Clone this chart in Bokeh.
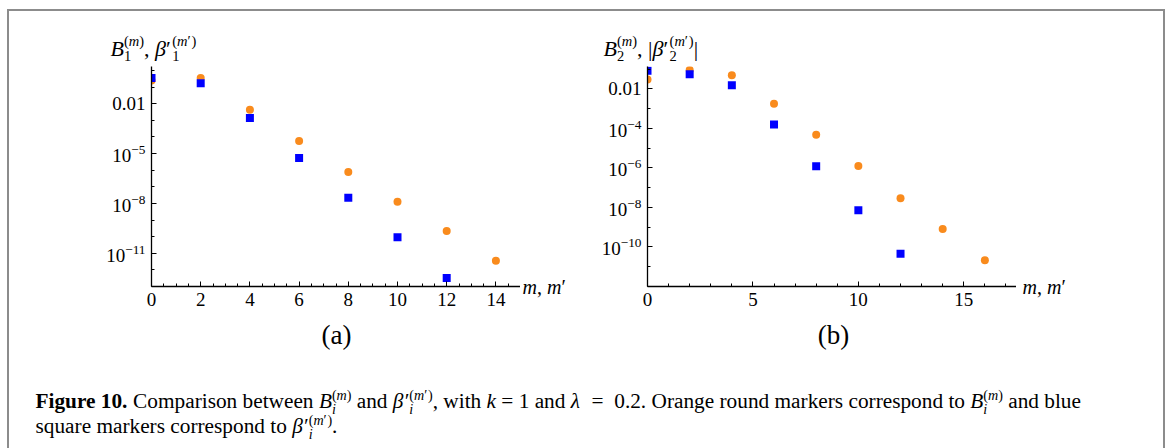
from bokeh.plotting import figure
from bokeh.layouts import column, row
from bokeh.models import Range1d, FixedTicker, LogTickFormatter, Label
from bokeh.embed import file_html
from bokeh.resources import INLINE

# ---------------- data ----------------
# panel (a): i = 1
m_B1 = [0, 2, 4, 6, 8, 10, 12, 14]
B1 = [0.25, 0.35, 4.4e-3, 5.8e-5, 7.9e-7, 1.26e-8, 2.2e-10, 3.6e-12]
m_beta1 = [0, 2, 4, 6, 8, 10, 12]
beta1 = [0.35, 0.17, 1.4e-3, 5.5e-6, 2.2e-8, 9.1e-11, 3.2e-13]

# panel (b): i = 2
m_B2 = [0, 2, 4, 6, 8, 10, 12, 14, 16]
B2 = [0.030, 0.089, 0.049, 1.74e-3, 4.8e-5, 1.26e-6, 2.9e-8, 8.1e-10, 2.1e-11]
m_beta2 = [0, 2, 4, 6, 8, 10, 12]
beta2 = [0.083, 0.055, 0.0151, 1.58e-4, 1.2e-6, 7.2e-9, 4.5e-11]

# ticks
xticks_a = [0, 2, 4, 6, 8, 10, 12, 14]
xminor_a = [i * 0.5 for i in range(31)]
yticks_a = [1e-2, 1e-5, 1e-8, 1e-11]
yminor_a = [1e0, 1e-1, 1e-3, 1e-4, 1e-6, 1e-7, 1e-9, 1e-10, 1e-12]

xticks_b = [0, 5, 10, 15]
xminor_b = list(range(0, 18))
yticks_b = [1e-2, 1e-4, 1e-6, 1e-8, 1e-10]
yminor_b = [1e-1, 1e-3, 1e-5, 1e-7, 1e-9, 1e-11]

# ---------------- style / geometry (page pixels) ----------------
SERIF = "Liberation Serif"
ORANGE = "#f98b1d"
BLUE = "#0000ff"
GRAY = "#8c8c8c"
W, H = 1170, 448
HEAD_H = 66            # header strip (y labels); plot frames start here
MID_BOTTOM = 318       # bottom of the plot row
AXIS_Y = 286           # x axes
MID_H = MID_BOTTOM - HEAD_H

NB = "\u00a0"
REG = {' ': 250, NB: 250, ',': 250, '.': 250, '=': 564, '(': 333, ')': 333, '|': 200, '\u2032': 275,
       'a': 444, 'b': 500, 'c': 444, 'd': 500, 'e': 444, 'f': 333, 'g': 500, 'h': 500,
       'i': 278, 'j': 278, 'k': 500, 'l': 278, 'm': 778, 'n': 500, 'o': 500, 'p': 500,
       'q': 500, 'r': 333, 's': 389, 't': 278, 'u': 500, 'v': 500, 'w': 722, 'x': 500,
       'y': 500, 'z': 444, 'O': 722, 'C': 667, 'B': 667, 'F': 556}
BOLD = {' ': 250, NB: 250, '.': 250, 'F': 611, 'i': 278, 'g': 500, 'u': 556, 'r': 444, 'e': 444}
ITAL = {'B': 611, 'm': 722, 'i': 278, 'k': 444, '\u03b2': 500, '\u03bb': 480}


def tw(text, style, size):
    table = {"normal": REG, "bold": BOLD, "italic": ITAL}[style]
    return sum(table.get(ch, REG.get(ch, 500)) for ch in text) / 1000.0 * size


def layout_runs(runs, x0, y0, size):
    """runs: ("t", text, style) or ("s", sub_runs, sup_runs) -> list of (x, baseline, text, style, size)."""
    out = []
    x = x0
    ss = size * 0.66
    for r in runs:
        if r[0] == "t":
            out.append((x, y0, r[1].replace(" ", NB), r[2], size))
            x += tw(r[1], r[2], size)
        else:
            xs = x
            for t, st in r[1]:
                out.append((xs, y0 + 0.24 * size, t, st, ss))
                xs += tw(t, st, ss)
            xp = x
            for t, st in r[2]:
                out.append((xp, y0 - 0.42 * size, t, st, ss))
                xp += tw(t, st, ss)
            x = max(xs, xp)
    return out


def text_fig(x0, y0, w, h):
    """A transparent canvas whose data coordinates are the page pixels."""
    f = figure(width=w, height=h, x_range=Range1d(x0, x0 + w), y_range=Range1d(y0 + h, y0),
               x_axis_location=None, y_axis_location=None, min_border=0, title=None,
               output_backend="svg", toolbar_location=None)
    f.grid.visible = False
    f.outline_line_color = None
    f.border_fill_color = None
    f.background_fill_color = None
    return f


def put(f, items, align="left"):
    # anchor at the middle of the em box: baseline - 0.34 * size
    for X, Y, t, st, sz in items:
        f.add_layout(Label(x=X, y=Y - 0.34 * sz, text=t, text_font=SERIF,
                           text_font_size=f"{sz:.1f}px", text_font_style=st,
                           text_baseline="middle", text_align=align, text_color="black"))


def make_panel(x0, frame_left, frame_right, xr, yr, xt, xminor, yt, yminor):
    p = figure(width=frame_right - x0, height=MID_H, x_range=Range1d(*xr), y_range=Range1d(*yr),
               y_axis_type="log", output_backend="svg", toolbar_location=None, title=None,
               min_border_left=frame_left - x0, min_border_right=0,
               min_border_top=0, min_border_bottom=MID_BOTTOM - AXIS_Y)
    p.grid.visible = False
    p.outline_line_color = None
    p.background_fill_color = None
    p.border_fill_color = None
    p.xaxis.ticker = FixedTicker(ticks=xt, minor_ticks=xminor)
    p.yaxis.ticker = FixedTicker(ticks=yt, minor_ticks=yminor)
    p.yaxis.formatter = LogTickFormatter(min_exponent=3)
    for ax in (p.xaxis[0], p.yaxis[0]):
        ax.axis_line_color = "black"
        ax.axis_line_width = 1.3
        ax.major_tick_in = 5
        ax.major_tick_out = 0
        ax.minor_tick_in = 3
        ax.minor_tick_out = 0
        ax.major_tick_line_width = 1
        ax.minor_tick_line_width = 1
        ax.major_label_text_font = SERIF
        ax.major_label_text_font_size = "19px"
        ax.major_label_text_color = "black"
    p.xaxis.major_label_standoff = 6
    p.yaxis.major_label_standoff = 6
    return p


def mm_label(x):
    return layout_runs([("t", "m", "italic"), ("t", ", ", "normal"), ("t", "m", "italic"),
                        ("t", "\u2032", "normal")], x, 293, 20)


# ---------------- header: y-axis labels ----------------
head = text_fig(0, 0, W, HEAD_H)
put(head, layout_runs([("t", "B", "italic"),
                       ("s", [("1", "normal")], [("(", "normal"), ("m", "italic"), (")", "normal")]),
                       ("t", ", ", "normal"), ("t", "\u03b2", "italic"), ("t", "\u2032", "normal"),
                       ("s", [("1", "normal")], [("(", "normal"), ("m", "italic"), ("\u2032", "normal"), (")", "normal")])],
                      110, 55, 22))
put(head, layout_runs([("t", "B", "italic"),
                       ("s", [("2", "normal")], [("(", "normal"), ("m", "italic"), (")", "normal")]),
                       ("t", ", ", "normal"), ("t", "|", "normal"), ("t", "\u03b2", "italic"), ("t", "\u2032", "normal"),
                       ("s", [("2", "normal")], [("(", "normal"), ("m", "italic"), ("\u2032", "normal"), (")", "normal")]),
                       ("t", "|", "normal")],
                      603, 55, 22))

# ---------------- plot row ----------------
pa = make_panel(0, 151, 520, (0, 15), (1e-13, 10 ** 0.24),
                xticks_a, xminor_a, yticks_a, yminor_a)
pa.scatter(m_B1, B1, marker="circle", size=8, color=ORANGE, line_color=None)
pa.scatter(m_beta1, beta1, marker="square", size=8, color=BLUE, line_color=None)

ta = text_fig(520, HEAD_H, 70, MID_H)
put(ta, mm_label(522))

pb = make_panel(590, 647, 1016, (0, 17.5), (1e-12, 10 ** -0.87),
                xticks_b, xminor_b, yticks_b, yminor_b)
pb.scatter(m_B2, B2, marker="circle", size=8, color=ORANGE, line_color=None)
pb.scatter(m_beta2, beta2, marker="square", size=8, color=BLUE, line_color=None)

tb = text_fig(1016, HEAD_H, W - 1016, MID_H)
put(tb, mm_label(1022))

# ---------------- footer: panel tags and caption ----------------
foot = text_fig(0, MID_BOTTOM, W, H - MID_BOTTOM)
put(foot, [(336, 344, "(a)", "normal", 27), (833, 344, "(b)", "normal", 27)], align="center")

B_sym = [("t", "B", "italic"), ("s", [("i", "italic")], [("(", "normal"), ("m", "italic"), (")", "normal")])]
beta_sym = [("t", "\u03b2\u2032", "italic"),
            ("s", [("i", "italic")], [("(", "normal"), ("m", "italic"), ("\u2032", "normal"), (")", "normal")])]
line1 = ([("t", "Figure 10.", "bold"), ("t", " Comparison between ", "normal")] + B_sym +
         [("t", " and ", "normal")] + beta_sym +
         [("t", ", with ", "normal"), ("t", "k", "italic"), ("t", " = 1 and ", "normal"),
          ("t", "\u03bb", "italic"), ("t", "  =  0.2. Orange round markers correspond to ", "normal")] +
         B_sym + [("t", " and blue", "normal")])
line2 = [("t", "square markers correspond to ", "normal")] + beta_sym + [("t", ".", "normal")]

CAP_FS = 21.3
put(foot, layout_runs(line1, 35, 408, CAP_FS))
put(foot, layout_runs(line2, 35, 433, CAP_FS))

# grey frame round the whole figure (top, left and right edges), drawn behind the transparent canvases
G = f"linear-gradient({GRAY}, {GRAY})"
frame_bg = (f"{G} 7px 9px / 2px 100% no-repeat, {G} 1163px 9px / 2px 100% no-repeat, "
            f"{G} 7px 9px / 1158px 2px no-repeat, #ffffff")

layout = column(head, row(pa, column(ta), pb, column(tb)), foot, styles={"background": frame_bg})
open("out.html", "w").write(file_html(layout, INLINE))
